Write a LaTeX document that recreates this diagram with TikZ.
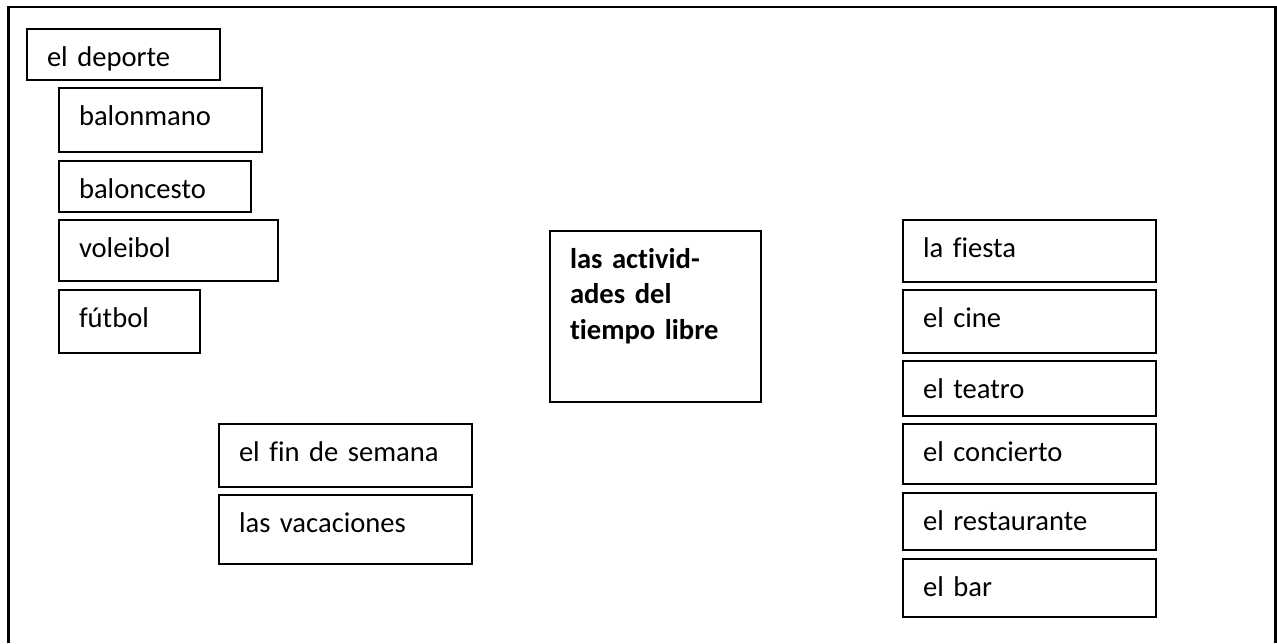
\documentclass[tikz,border=0pt]{standalone}
\usepackage{fontspec}
\setmainfont{Carlito}[Ligatures={NoCommon}]
\tikzset{
  box/.style={draw, line width=1pt, anchor=north west, align=left,
    inner xsep=10pt, inner ysep=0pt, text height=18.5pt,
    font=\fontsize{14.3pt}{17.75pt}\selectfont},
}

\begin{document}
\begin{tikzpicture}[x=0.5pt, y=-0.5pt]
  \useasboundingbox (0,0) rectangle (1277,643);
  % frame round the whole sheet
  \draw[line width=1.2pt] (8.5,643) -- (8.5,7) -- (1275.5,7) -- (1275.5,643);

  % sports column
  \node[box, text width=76.5pt, text depth=7pt] (deporte) at (26,28) {el deporte};
  \node[box, text width=81.5pt, text depth=13.5pt] (balonmano) at (58,87) {balonmano};
  \node[box, text width=76pt, text depth=7pt] (baloncesto) at (58,160) {baloncesto};
  \node[box, text width=89.5pt, text depth=12pt] (voleibol) at (58,219) {voleibol};
  \node[box, text width=50.5pt, text depth=13pt] (futbol) at (58,289) {fútbol};

  % time
  \node[box, text width=106.5pt, text depth=13pt] (finde) at (218,423) {el fin de semana};
  \node[box, text width=106.5pt, text depth=16pt] (vacaciones) at (218,494) {las vacaciones};

  % centre
  \node[box, text width=85.5pt, text depth=67pt, font=\bfseries\fontsize{14.3pt}{17.75pt}\selectfont] (centro) at (549,230)
    {las activid-\\ades del\\tiempo libre};

  % places
  \node[box, text width=106.5pt, text depth=12.5pt] (fiesta) at (902,219) {la fiesta};
  \node[box, text width=106.5pt, text depth=13pt] (cine) at (902,289) {el cine};
  \node[box, text width=106.5pt, text depth=9pt] (teatro) at (902,360) {el teatro};
  \node[box, text width=106.5pt, text depth=11.5pt] (concierto) at (902,423) {el concierto};
  \node[box, text width=106.5pt, text depth=10pt] (restaurante) at (902,492) {el restaurante};
  \node[box, text width=106.5pt, text depth=10.5pt] (bar) at (902,558) {el bar};
\end{tikzpicture}
\end{document}
